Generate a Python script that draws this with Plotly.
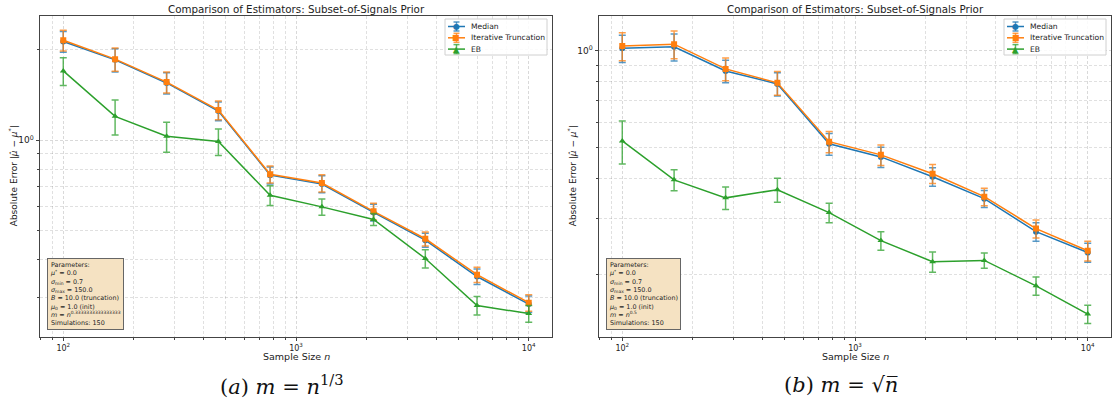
import plotly.graph_objects as go

# ---------------- data ----------------
n_values = [100, 167, 278, 464, 774, 1292, 2154, 3594, 5995, 10000]

# panel (a): m = n^(1/3)
a_median = [2.13, 1.85, 1.55, 1.25, 0.765, 0.715, 0.575, 0.465, 0.352, 0.285]
a_median_err = [0.17, 0.165, 0.125, 0.09, 0.05, 0.047, 0.037, 0.025, 0.021, 0.018]
a_trunc = [2.15, 1.86, 1.56, 1.26, 0.77, 0.72, 0.58, 0.47, 0.357, 0.288]
a_trunc_err = [0.17, 0.165, 0.125, 0.09, 0.05, 0.047, 0.037, 0.025, 0.021, 0.018]
a_eb = [1.70, 1.20, 1.03, 0.99, 0.656, 0.60, 0.545, 0.404, 0.282, 0.265]
a_eb_err = [0.18, 0.16, 0.118, 0.10, 0.05, 0.037, 0.025, 0.028, 0.02, 0.017]

# panel (b): m = sqrt(n)
b_median = [1.02, 1.03, 0.866, 0.789, 0.513, 0.467, 0.405, 0.346, 0.273, 0.235]
b_median_err = [0.10, 0.10, 0.07, 0.066, 0.04, 0.034, 0.027, 0.021, 0.018, 0.016]
b_trunc = [1.036, 1.05, 0.879, 0.795, 0.521, 0.474, 0.414, 0.351, 0.279, 0.238]
b_trunc_err = [0.104, 0.105, 0.072, 0.068, 0.04, 0.035, 0.028, 0.022, 0.018, 0.017]
b_eb = [0.524, 0.396, 0.348, 0.369, 0.313, 0.256, 0.22, 0.222, 0.185, 0.151]
b_eb_err = [0.08, 0.03, 0.028, 0.032, 0.022, 0.017, 0.016, 0.012, 0.012, 0.01]

series_names = ["Median", "Iterative Truncation", "EB"]
series_colors = ["#1f77b4", "#ff7f0e", "#2ca02c"]
err_colors = ["rgba(31,119,180,0.75)", "rgba(255,127,14,0.75)", "rgba(44,160,44,0.75)"]
series_symbols = ["circle", "square", "triangle-up"]
legend_glyphs = ["●", "■", "▲"]

title_text = "Comparison of Estimators: Subset-of-Signals Prior"
x_major = [100, 1000, 10000]
x_major_text = ["10<sup>2</sup>", "10<sup>3</sup>", "10<sup>4</sup>"]
x_minor = [80, 90, 200, 300, 400, 500, 600, 700, 800, 900,
           2000, 3000, 4000, 5000, 6000, 7000, 8000, 9000]
y_major = [1]
y_major_text = ["10<sup>0</sup>"]
y_minor = [0.2, 0.3, 0.4, 0.5, 0.6, 0.7, 0.8, 0.9, 2, 3]

param_a = ("Parameters:<br><i>μ</i><sup>*</sup> = 0.0<br><i>σ</i><sub>min</sub> = 0.7<br>"
           "<i>σ</i><sub>max</sub> = 150.0<br><i>B</i> = 10.0 (truncation)<br>"
           "<i>μ</i><sub>0</sub> = 1.0 (init)<br><i>m</i> = <i>n</i><sup>0.3333333333333333</sup><br>"
           "Simulations: 150")
param_b = ("Parameters:<br><i>μ</i><sup>*</sup> = 0.0<br><i>σ</i><sub>min</sub> = 0.7<br>"
           "<i>σ</i><sub>max</sub> = 150.0<br><i>B</i> = 10.0 (truncation)<br>"
           "<i>μ</i><sub>0</sub> = 1.0 (init)<br><i>m</i> = <i>n</i><sup>0.5</sup><br>"
           "Simulations: 150")

W, H = 1114, 412
fig = go.Figure()

panels = [
    dict(x="x", y="y",
         vals=[a_median, a_trunc, a_eb], errs=[a_median_err, a_trunc_err, a_eb_err]),
    dict(x="x2", y="y2",
         vals=[b_median, b_trunc, b_eb], errs=[b_median_err, b_trunc_err, b_eb_err]),
]

for p in panels:
    for i in range(3):
        fig.add_trace(go.Scatter(
            x=n_values, y=p["vals"][i], name=series_names[i], showlegend=False,
            mode="lines+markers", xaxis=p["x"], yaxis=p["y"],
            line=dict(color=series_colors[i], width=1.5),
            marker=dict(symbol=series_symbols[i], size=6, color=series_colors[i]),
            error_y=dict(type="data", array=p["errs"][i], visible=True,
                         color=err_colors[i], thickness=1.5, width=3.5),
        ))

grid_col = "rgba(0,0,0,0.12)"
gdash = "3px,2px"
ax_common = dict(type="log", showline=True, mirror=True, linecolor="#444", linewidth=1,
                 ticks="outside", ticklen=3.5, tickcolor="#444", tickwidth=0.8, automargin=False,
                 showgrid=True, gridcolor="rgba(0,0,0,0.15)", griddash=gdash, gridwidth=0.8,
                 zeroline=False, tickfont=dict(family="DejaVu Sans", size=8, color="#222"))

def xax(domain, rng, anchor):
    d = dict(ax_common)
    d.update(domain=domain, range=rng, anchor=anchor, tickmode="array", tickvals=x_major,
             ticktext=x_major_text,
             minor=dict(tickvals=x_minor, ticks="outside", ticklen=2, tickcolor="#444",
                        showgrid=True, gridcolor=grid_col, griddash=gdash, gridwidth=0.8))
    return d

def yax(domain, rng, anchor):
    d = dict(ax_common)
    d.update(domain=domain, range=rng, anchor=anchor, tickmode="array", tickvals=y_major,
             ticktext=y_major_text,
             minor=dict(tickvals=y_minor, ticks="outside", ticklen=2, tickcolor="#444",
                        showgrid=True, gridcolor=grid_col, griddash=gdash, gridwidth=0.8))
    d["tickfont"] = dict(family="DejaVu Sans", size=9, color="#222")
    return d

ydom = [1 - 336.5 / H, 1 - 16 / H]
x1dom = [40 / W, 552 / W]
x2dom = [599 / W, 1111 / W]

fig.update_layout(
    width=W, height=H, margin=dict(l=0, r=0, t=0, b=0, autoexpand=False),
    paper_bgcolor="white", plot_bgcolor="white",
    font=dict(family="DejaVu Sans", color="#222"),
    xaxis=xax(x1dom, [1.9, 4.1], "y"),
    yaxis=yax(ydom, [-0.653, 0.413], "x"),
    xaxis2=xax(x2dom, [1.9, 4.1], "y2"),
    yaxis2=yax(ydom, [-0.891, 0.109], "x2"),
    showlegend=False,
)

ann = []
shapes = []
for dom, ptxt, cap in [(x1dom, param_a, "(<i>a</i>) <i>m</i> = <i>n</i><sup>1/3</sup>"),
                       (x2dom, param_b, "(<i>b</i>) <i>m</i> = √<i>n̅</i>")]:
    cx = (dom[0] + dom[1]) / 2
    ann.append(dict(text=title_text, x=cx, y=1 - 9 / H, xref="paper", yref="paper",
                    showarrow=False, font=dict(size=10.3, color="#222"), xanchor="center", yanchor="middle"))
    ann.append(dict(text="Sample Size <i>n</i>", x=cx, y=1 - 356 / H, xref="paper", yref="paper",
                    showarrow=False, font=dict(size=9.5, color="#222"), xanchor="center", yanchor="middle"))
    ann.append(dict(text="Absolute Error |<i>μ̂</i> − <i>μ</i><sup>*</sup>|", x=dom[0] - 27 / W,
                    y=(ydom[0] + ydom[1]) / 2, xref="paper", yref="paper", textangle=-90,
                    showarrow=False, font=dict(size=9, color="#222"), xanchor="center", yanchor="middle"))
    ann.append(dict(text=ptxt, x=dom[0] + 7 / W, y=1 - 330 / H, xref="paper", yref="paper",
                    showarrow=False, align="left", xanchor="left", yanchor="bottom",
                    bgcolor="#F5E2C2", bordercolor="#666", borderwidth=1, borderpad=2,
                    font=dict(size=6.4, color="#222")))
    ann.append(dict(text=cap, x=cx - 14 / W, y=1 - 385 / H, xref="paper", yref="paper",
                    showarrow=False, xanchor="center", yanchor="middle",
                    font=dict(family="DejaVu Serif", size=21, color="#111")))

    # legend box (upper right), drawn in paper space
    lx1 = dom[1] - 5 / W
    lx0 = lx1 - 102 / W
    ly1 = 1 - 19 / H
    ly0 = 1 - 55 / H
    shapes.append(dict(type="rect", xref="paper", yref="paper", x0=lx0, x1=lx1, y0=ly0, y1=ly1,
                       line=dict(color="#d0d0d0", width=1), fillcolor="rgba(255,255,255,0.85)",
                       layer="above"))
    for i in range(3):
        ry = 1 - (26.5 + i * 11.3) / H
        sx0 = lx0 + 3 / W
        sx1 = sx0 + 17 / W
        sxc = (sx0 + sx1) / 2
        shapes.append(dict(type="line", xref="paper", yref="paper", x0=sx0, x1=sx1, y0=ry, y1=ry,
                           line=dict(color=series_colors[i], width=1.5), layer="above"))
        shapes.append(dict(type="line", xref="paper", yref="paper", x0=sxc, x1=sxc,
                           y0=ry - 4.5 / H, y1=ry + 4.5 / H,
                           line=dict(color=err_colors[i], width=1.5), layer="above"))
        for dy in (-4.5, 4.5):
            shapes.append(dict(type="line", xref="paper", yref="paper", x0=sxc - 3 / W, x1=sxc + 3 / W,
                               y0=ry + dy / H, y1=ry + dy / H,
                               line=dict(color=err_colors[i], width=1.5), layer="above"))
        ann.append(dict(text=legend_glyphs[i], x=sxc, y=ry, xref="paper", yref="paper",
                        showarrow=False, xanchor="center", yanchor="middle",
                        font=dict(size=8, color=series_colors[i])))
        ann.append(dict(text=series_names[i], x=lx0 + 24 / W, y=ry, xref="paper", yref="paper",
                        showarrow=False, xanchor="left", yanchor="middle",
                        font=dict(size=7.6, color="#222")))

fig.update_layout(annotations=ann, shapes=shapes)

fig.write_html("out.html", config={"displayModeBar": False},
               post_script="document.body.style.margin='0';document.body.style.overflow='hidden';")
